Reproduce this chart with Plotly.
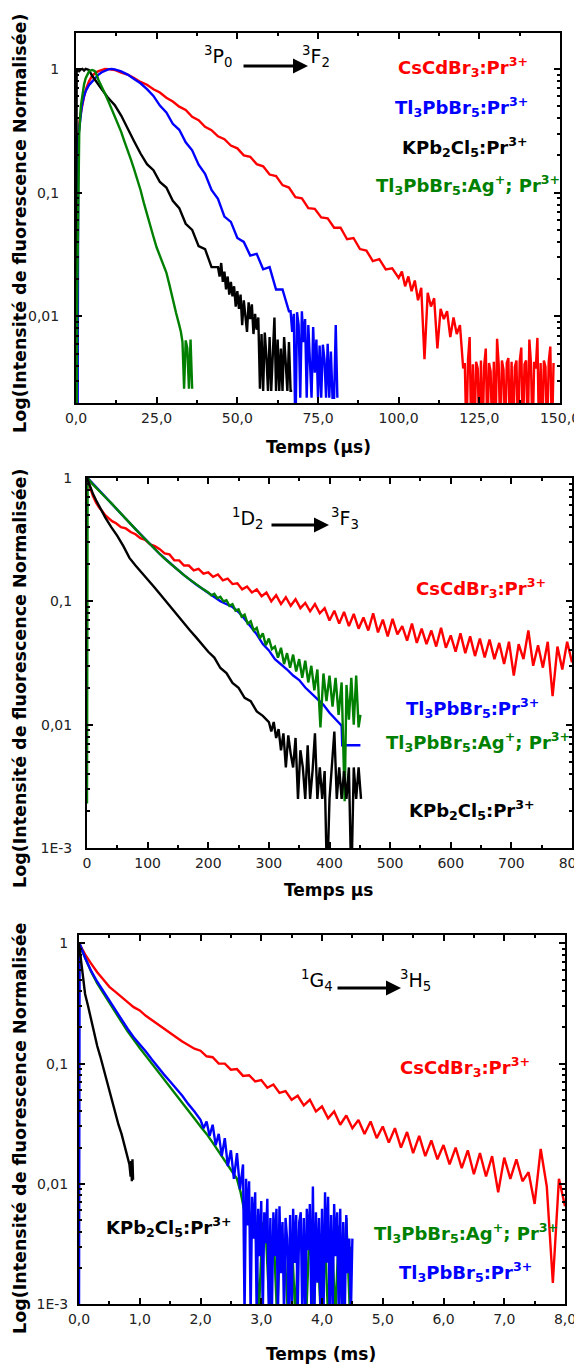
import plotly.graph_objects as go

# ---------------- Panel 1 : 3P0 -> 3F2 (time in µs) ----------------
p0_cs_t = [0, 0.1, 0.4, 0.8, 1.2, 1.8, 2.5, 3.2, 4, 5, 6, 7, 8, 9, 10,
           12, 14, 16, 18, 20, 22, 24, 26, 28, 30, 32, 34, 36, 38, 40, 42, 44, 46, 48, 50,
           52, 54, 56, 58, 60, 62, 64, 66, 68, 70, 72, 74, 76, 78, 80, 82, 84, 86, 88, 90,
           92, 94, 96, 98, 100,
           101, 102, 103, 104, 105, 106, 107, 108, 109, 110, 111, 112, 113, 114, 115, 116, 117, 118, 119, 120,
           120.5, 121, 121.5, 122, 122.5, 123, 123.5, 124, 124.5, 125, 125.5, 126, 126.5, 127, 127.5, 128,
           128.5, 129, 129.5, 130, 130.5, 131, 131.5, 132, 132.5, 133, 133.5, 134, 134.5, 135, 135.5, 136,
           136.5, 137, 137.5, 138, 138.5, 139, 139.5, 140, 140.5, 141, 141.5, 142, 142.5, 143, 143.5, 144,
           144.5, 145, 145.5, 146, 146.5, 147, 147.5, 148]
p0_cs_y = [0.001, 0.018, 0.12, 0.3, 0.4, 0.49, 0.6, 0.7, 0.79, 0.88, 0.93, 0.96, 0.98, 1.0, 0.995,
           0.98, 0.935, 0.9, 0.845, 0.785, 0.745, 0.685, 0.645, 0.585, 0.545, 0.495, 0.465, 0.41, 0.385, 0.34, 0.32, 0.285, 0.27, 0.24, 0.228,
           0.2, 0.195, 0.17, 0.163, 0.14, 0.136, 0.115, 0.11, 0.092, 0.09, 0.075, 0.074, 0.063, 0.062, 0.052, 0.052, 0.042, 0.043, 0.035, 0.034,
           0.028, 0.029, 0.024, 0.0245, 0.0205,
           0.023, 0.0175, 0.021, 0.016, 0.0195, 0.0135, 0.017, 0.0045, 0.0155, 0.012, 0.014, 0.0055, 0.0115, 0.0095, 0.011, 0.0068, 0.0098, 0.0072, 0.0085, 0.0038,
           0.0042, 0.001, 0.0045, 0.0068, 0.001, 0.0041, 0.001, 0.0043, 0.0038, 0.001, 0.0044, 0.001, 0.004, 0.0055, 0.001, 0.0042,
           0.0036, 0.001, 0.0043, 0.001, 0.0066, 0.0041, 0.001, 0.0044, 0.0037, 0.001, 0.0042, 0.0046, 0.001, 0.0043, 0.001, 0.0039,
           0.0044, 0.001, 0.0043, 0.0056, 0.001, 0.0041, 0.0044, 0.001, 0.0065, 0.0042, 0.001, 0.0043, 0.0038, 0.0067, 0.001, 0.0042,
           0.001, 0.0044, 0.0039, 0.001, 0.0043, 0.0057, 0.001, 0.0042]

p0_tl_t = [0, 0.5, 0.7, 1.2, 1.8, 2.4, 3, 4, 5, 6, 7, 8, 9, 10, 11, 12,
           14, 16, 18, 20, 22, 24, 26, 28, 30, 32, 34, 36, 38, 40, 42, 44, 46, 48, 50, 52, 54, 56, 58, 60, 62, 64, 66,
           66.5, 67, 67.5, 68, 68.5, 69, 69.5, 70, 70.5, 71, 71.5, 72, 72.5, 73, 73.5, 74, 74.5, 75, 75.5, 76,
           76.5, 77, 77.5, 78, 78.5, 79, 79.5, 80, 80.5, 81]
p0_tl_y = [0.001, 0.001, 0.28, 0.38, 0.5, 0.59, 0.66, 0.74, 0.79, 0.85, 0.9, 0.94, 0.97, 0.99, 1.0, 0.99,
           0.955, 0.9, 0.83, 0.765, 0.685, 0.605, 0.505, 0.445, 0.36, 0.322, 0.255, 0.22, 0.168, 0.142, 0.105, 0.089, 0.064, 0.058, 0.043, 0.04, 0.031, 0.032, 0.024, 0.025, 0.0165, 0.0165, 0.011,
           0.011, 0.0075, 0.0105, 0.001, 0.0108, 0.0085, 0.0022, 0.011, 0.0062, 0.0095, 0.0022, 0.0085, 0.0048, 0.0022, 0.0082, 0.0035, 0.0065, 0.0022, 0.0058, 0.0022,
           0.0059, 0.0045, 0.0022, 0.006, 0.0022, 0.0052, 0.0022, 0.0022, 0.0085, 0.0022]

p0_kpb_t = [0, 0.2, 0.6, 1, 1.5, 2, 2.5, 3, 3.5, 4, 5, 6, 7, 8, 9, 10, 11, 12,
            14, 16, 18, 20, 22, 24, 26, 28, 30, 32, 34, 36, 38, 40, 42, 44,
            44.5, 45, 45.5, 46, 46.5, 47, 47.5, 48, 48.5, 49, 49.5, 50, 50.5, 51, 51.5, 52, 52.5, 53, 53.5, 54,
            54.5, 55, 55.5, 56, 56.5, 57, 57.5, 58, 58.5, 59, 59.5, 60, 60.5, 61, 61.5, 62, 62.5, 63, 63.5, 64,
            64.5, 65, 65.5, 66, 66.5, 67]
p0_kpb_y = [0.001, 0.95, 1.0, 0.96, 0.99, 1.0, 0.97, 1.0, 0.99, 0.98, 0.88, 0.81, 0.74, 0.68, 0.63, 0.58, 0.545, 0.51,
            0.42, 0.335, 0.26, 0.207, 0.17, 0.152, 0.122, 0.11, 0.086, 0.075, 0.056, 0.05, 0.037, 0.035, 0.025, 0.025,
            0.021, 0.027, 0.019, 0.023, 0.0165, 0.021, 0.015, 0.019, 0.0145, 0.0175, 0.012, 0.016, 0.0115, 0.015, 0.0085, 0.0135, 0.0105, 0.0075, 0.013, 0.0095,
            0.0125, 0.0072, 0.0105, 0.0078, 0.0098, 0.0026, 0.0072, 0.0025, 0.0074, 0.0048, 0.0025, 0.0068, 0.0025, 0.0052, 0.0098, 0.0025, 0.0065, 0.0025, 0.0055, 0.0025,
            0.0068, 0.0042, 0.0025, 0.0062, 0.0025, 0.0025]

p0_ag_t = [0, 0.2, 0.4, 0.7, 1.0, 1.5, 2, 2.5, 3, 3.5, 4, 4.5, 5, 5.5, 6,
           7, 8, 9, 10, 11, 12, 13, 14, 15, 16, 17, 18, 19, 20, 21, 22, 23, 24, 25, 26, 27, 28, 29, 30, 31, 32,
           32.5, 33, 33.5, 34, 34.5, 35, 35.5, 36]
p0_ag_y = [0.001, 0.001, 0.017, 0.11, 0.3, 0.5, 0.63, 0.75, 0.84, 0.9, 0.95, 0.97, 0.98, 0.97, 0.95,
           0.81, 0.72, 0.63, 0.55, 0.48, 0.42, 0.36, 0.31, 0.26, 0.224, 0.186, 0.155, 0.129, 0.105, 0.083, 0.066, 0.054, 0.044, 0.036, 0.031, 0.026, 0.0226, 0.0178, 0.0135, 0.0107, 0.0085,
           0.0075, 0.0062, 0.0026, 0.0064, 0.0055, 0.0026, 0.0065, 0.0026]

# ---------------- Panel 2 : 1D2 -> 3F3 (time in µs) ----------------
d2_cs_t = [0, 2, 5, 10, 15, 20, 25, 30, 36, 42, 48, 56, 64, 72, 80, 88, 96, 104, 112, 120, 128, 136, 144, 152,
           160, 168, 176, 184, 192, 200, 208, 216, 224, 232, 240, 248, 256, 264, 272, 280, 288, 296, 304, 312,
           320, 328, 336, 344, 352, 360, 368, 376, 384, 392, 400, 408, 416, 424, 432, 440, 448, 456, 464, 472,
           480, 488, 496, 504, 512, 520, 528, 536, 544, 552, 560, 568, 576, 584, 592, 600, 608, 616, 624, 632,
           640, 648, 656, 664, 672, 680, 688, 696, 704, 712, 720, 728, 736, 744, 752, 760, 768, 776, 784, 792, 800]
d2_cs_y = [1.0, 0.93, 0.83, 0.71, 0.63, 0.575, 0.54, 0.5, 0.47, 0.445, 0.43, 0.40, 0.39, 0.365, 0.35, 0.325, 0.315, 0.29, 0.28, 0.265, 0.245, 0.24, 0.215, 0.215,
           0.195, 0.195, 0.178, 0.183, 0.168, 0.172, 0.158, 0.165, 0.148, 0.153, 0.138, 0.14, 0.125, 0.132, 0.118, 0.125, 0.11, 0.118, 0.1, 0.112,
           0.095, 0.108, 0.092, 0.104, 0.088, 0.097, 0.083, 0.095, 0.08, 0.088, 0.07, 0.084, 0.066, 0.082, 0.063, 0.079, 0.06, 0.074, 0.058, 0.08,
           0.056, 0.071, 0.052, 0.072, 0.054, 0.063, 0.048, 0.066, 0.046, 0.06, 0.045, 0.058, 0.043, 0.061, 0.042, 0.053, 0.039, 0.055, 0.038, 0.052,
           0.036, 0.05, 0.035, 0.049, 0.034, 0.046, 0.031, 0.047, 0.025, 0.045, 0.034, 0.058, 0.03, 0.044, 0.029, 0.047, 0.017, 0.043, 0.028, 0.047, 0.032]

d2_tl_t = [1, 20, 40, 60, 80, 100, 120, 140, 160, 180, 200, 220, 240, 250, 260, 270, 280, 290, 300, 310, 320,
           330, 340, 350, 360, 370, 380, 390, 400, 410, 420, 421, 451]
d2_tl_y = [1.0, 0.79, 0.62, 0.49, 0.385, 0.305, 0.242, 0.198, 0.163, 0.137, 0.117, 0.1, 0.09, 0.082, 0.072, 0.063, 0.054, 0.045, 0.04, 0.034, 0.031,
           0.028, 0.025, 0.023, 0.02, 0.018, 0.016, 0.0145, 0.0125, 0.011, 0.0098, 0.0068, 0.0068]

d2_ag_t = [0, 1, 8, 16, 24, 32, 40, 48, 56, 64, 72, 80, 88, 96, 104, 112, 120, 128, 136, 144, 152, 160, 168, 176, 184, 192, 200,
           205, 210, 215, 220, 225, 230, 235, 240, 245, 250, 255, 260, 265, 270, 275, 280, 285, 290, 295, 300,
           305, 310, 315, 320, 325, 330, 335, 340, 345, 350, 355, 360, 365, 370, 375, 380, 385, 390, 395, 400,
           405, 410, 415, 420, 425, 428, 432, 436, 440, 444, 448, 451]
d2_ag_y = [0.0023, 1.0, 0.905, 0.83, 0.755, 0.685, 0.625, 0.565, 0.515, 0.465, 0.425, 0.385, 0.35, 0.318, 0.29, 0.265, 0.242, 0.222, 0.205, 0.19, 0.176, 0.163, 0.152, 0.142, 0.133, 0.125, 0.118,
           0.112, 0.115, 0.106, 0.109, 0.1, 0.102, 0.092, 0.095, 0.084, 0.086, 0.075, 0.078, 0.066, 0.069, 0.058, 0.061, 0.05, 0.055, 0.044, 0.05,
           0.041, 0.043, 0.035, 0.042, 0.031, 0.038, 0.029, 0.037, 0.027, 0.034, 0.024, 0.033, 0.022, 0.03, 0.019, 0.028, 0.0095, 0.026, 0.0155, 0.025,
           0.014, 0.024, 0.012, 0.022, 0.0024, 0.021, 0.011, 0.024, 0.01, 0.025, 0.0095, 0.012]

d2_kpb_t = [0, 5, 10, 15, 20, 30, 40, 50, 60, 70, 80, 90, 100, 110, 120, 130, 140, 150, 160, 170, 180, 190, 200,
            210, 220, 230, 240, 250, 260, 270, 280, 290, 300,
            304, 308, 312, 316, 320, 324, 328, 332, 336, 340, 344, 348, 352, 356, 360, 364, 368, 372, 376, 380,
            384, 388, 392, 396, 400, 404, 408, 412, 416, 420, 424, 428, 432, 436, 440, 444, 448, 452]
d2_kpb_y = [1.0, 0.85, 0.74, 0.66, 0.59, 0.48, 0.40, 0.34, 0.28, 0.225, 0.195, 0.172, 0.151, 0.132, 0.115, 0.10, 0.087, 0.076, 0.066, 0.058, 0.051, 0.0447, 0.039,
            0.035, 0.0288, 0.0262, 0.0218, 0.0199, 0.0165, 0.0155, 0.0128, 0.0118, 0.0105,
            0.0088, 0.0105, 0.0078, 0.0092, 0.0062, 0.0085, 0.0045, 0.0082, 0.0058, 0.0045, 0.0078, 0.0025, 0.0062, 0.0045, 0.0025, 0.0068, 0.0025, 0.0042, 0.0085, 0.0025,
            0.0045, 0.0025, 0.0042, 0.0005, 0.0025, 0.0045, 0.0088, 0.0025, 0.0045, 0.0025, 0.0042, 0.0025, 0.0045, 0.0005, 0.0045, 0.0025, 0.0045, 0.0025]

# ---------------- Panel 3 : 1G4 -> 3H5 (time in ms) ----------------
g4_cs_t = [0.0, 0.1, 0.2, 0.3, 0.4, 0.5, 0.6, 0.7, 0.8, 0.9, 1.0, 1.1, 1.2, 1.3, 1.4, 1.5, 1.6, 1.7, 1.8, 1.9,
           2.0, 2.1, 2.2, 2.3, 2.4, 2.5, 2.6, 2.7, 2.8, 2.9, 3.0, 3.1, 3.2, 3.3, 3.4, 3.5, 3.6, 3.7, 3.8, 3.9,
           4.0, 4.1, 4.2, 4.3, 4.4, 4.5, 4.6, 4.7, 4.8, 4.9, 5.0, 5.1, 5.2, 5.3, 5.4, 5.5, 5.6, 5.7, 5.8, 5.9,
           6.0, 6.1, 6.2, 6.3, 6.4, 6.5, 6.6, 6.7, 6.8, 6.9, 7.0, 7.1, 7.2, 7.3, 7.4, 7.5, 7.6, 7.7, 7.8, 7.9, 8.0]
g4_cs_y = [1.0, 0.81, 0.68, 0.575, 0.5, 0.435, 0.395, 0.355, 0.325, 0.295, 0.277, 0.25, 0.23, 0.21, 0.193, 0.178, 0.166, 0.153, 0.143, 0.133,
           0.128, 0.115, 0.113, 0.1, 0.1, 0.089, 0.09, 0.079, 0.08, 0.071, 0.073, 0.063, 0.067, 0.057, 0.059, 0.05, 0.054, 0.045, 0.05, 0.04,
           0.044, 0.035, 0.04, 0.031, 0.037, 0.029, 0.034, 0.026, 0.033, 0.024, 0.03, 0.022, 0.029, 0.02, 0.027, 0.018, 0.025, 0.017, 0.023, 0.016,
           0.021, 0.0145, 0.02, 0.0135, 0.019, 0.012, 0.018, 0.0115, 0.017, 0.0085, 0.0165, 0.011, 0.016, 0.0105, 0.0125, 0.0068, 0.0195, 0.0095, 0.0015, 0.011, 0.0065]

g4_tl_t = [0.0, 0.01, 0.1, 0.2, 0.3, 0.4, 0.5, 0.6, 0.7, 0.8, 0.9, 1.0, 1.1, 1.2, 1.3, 1.4, 1.5, 1.6, 1.7, 1.8, 1.9, 2.0,
           2.05, 2.1, 2.15, 2.2, 2.25, 2.3, 2.35, 2.4, 2.45, 2.5, 2.55, 2.6, 2.65,
           2.7, 2.725, 2.75, 2.775, 2.8, 2.825, 2.85, 2.875, 2.9, 2.925, 2.95, 2.975, 3.0, 3.025, 3.05, 3.075,
           3.1, 3.125, 3.15, 3.175, 3.2, 3.225, 3.25, 3.275, 3.3, 3.325, 3.35, 3.375, 3.4, 3.425, 3.45, 3.475,
           3.5, 3.525, 3.55, 3.575, 3.6, 3.625, 3.65, 3.675, 3.7, 3.725, 3.75, 3.775, 3.8, 3.825, 3.85, 3.875,
           3.9, 3.925, 3.95, 3.975, 4.0, 4.025, 4.05, 4.075, 4.1, 4.125, 4.15, 4.175, 4.2, 4.225, 4.25, 4.275,
           4.3, 4.325, 4.35, 4.375, 4.4, 4.425, 4.45, 4.475, 4.5]
g4_tl_y = [0.0008, 1.0, 0.76, 0.59, 0.48, 0.40, 0.33, 0.28, 0.234, 0.195, 0.166, 0.145, 0.126, 0.108, 0.093, 0.081, 0.071, 0.062, 0.054, 0.046, 0.040, 0.034,
           0.029, 0.033, 0.025, 0.031, 0.021, 0.026, 0.017, 0.024, 0.014, 0.019, 0.011, 0.018, 0.009,
           0.0145, 0.0008, 0.011, 0.0045, 0.0105, 0.0008, 0.0078, 0.0035, 0.0085, 0.0008, 0.0062, 0.0025, 0.0072, 0.0008, 0.0058, 0.0032,
           0.0075, 0.0008, 0.0052, 0.0008, 0.0058, 0.0025, 0.0062, 0.0008, 0.0065, 0.0018, 0.0048, 0.0008, 0.0052, 0.0035, 0.0008, 0.0055,
           0.0008, 0.0062, 0.0022, 0.0055, 0.0008, 0.0048, 0.0058, 0.0008, 0.0052, 0.0008, 0.0062, 0.0028, 0.0068, 0.0008, 0.0095, 0.0008,
           0.0058, 0.0015, 0.0052, 0.0008, 0.0062, 0.0008, 0.0085, 0.0022, 0.0078, 0.0008, 0.0055, 0.0008, 0.0068, 0.0025, 0.0058, 0.0008,
           0.0062, 0.0008, 0.0048, 0.0008, 0.0055, 0.0018, 0.0035, 0.0008, 0.0035]

g4_ag_t = [0.0, 0.1, 0.2, 0.3, 0.4, 0.5, 0.6, 0.7, 0.8, 0.9, 1.0, 1.1, 1.2, 1.3, 1.4, 1.5, 1.6, 1.7, 1.8, 1.9, 2.0,
           2.1, 2.2, 2.3, 2.4, 2.5, 2.6, 2.66, 2.72, 2.78, 2.84, 2.9, 2.96, 3.02, 3.08, 3.14, 3.2, 3.26, 3.32, 3.38,
           3.44, 3.5, 3.56, 3.62, 3.68, 3.74, 3.8, 3.86, 3.92, 3.98, 4.04, 4.1, 4.16, 4.22, 4.28, 4.34, 4.4, 4.46, 4.48]
g4_ag_y = [1.0, 0.755, 0.58, 0.465, 0.385, 0.318, 0.266, 0.222, 0.186, 0.157, 0.135, 0.116, 0.1, 0.086, 0.074, 0.064, 0.055, 0.048, 0.041, 0.035, 0.03,
           0.026, 0.022, 0.0185, 0.0155, 0.013, 0.011, 0.0085, 0.006, 0.0068, 0.0045, 0.0055, 0.0008, 0.0048, 0.0035, 0.0008, 0.0042, 0.0008, 0.0045, 0.003,
           0.0008, 0.0038, 0.0008, 0.0042, 0.0025, 0.0008, 0.0048, 0.0008, 0.0035, 0.0008, 0.0042, 0.0008, 0.0038, 0.0008, 0.0045, 0.0008, 0.0052, 0.0008, 0.003]

g4_kpb_t = [0.0, 0.03, 0.06, 0.1, 0.15, 0.2, 0.25, 0.3, 0.35, 0.4, 0.45, 0.5, 0.55, 0.6, 0.65, 0.7, 0.75, 0.8,
            0.83, 0.85, 0.86, 0.87, 0.88, 0.89]
g4_kpb_y = [1.0, 0.72, 0.53, 0.38, 0.3, 0.23, 0.18, 0.14, 0.115, 0.092, 0.074, 0.058, 0.047, 0.038, 0.031, 0.026, 0.021, 0.017,
            0.0145, 0.0115, 0.0155, 0.0105, 0.016, 0.0108]

# ---------------- tick labels ----------------
p0_xticks = [0, 25, 50, 75, 100, 125, 150]
p0_xlabels = ["0,0", "25,0", "50,0", "75,0", "100,0", "125,0", "150,0"]
d2_xticks = [0, 100, 200, 300, 400, 500, 600, 700, 800]
d2_xlabels = ["0", "100", "200", "300", "400", "500", "600", "700", "800"]
g4_xticks = [0, 1, 2, 3, 4, 5, 6, 7, 8]
g4_xlabels = ["0,0", "1,0", "2,0", "3,0", "4,0", "5,0", "6,0", "7,0", "8,0"]
yticks = [0.001, 0.01, 0.1, 1]
ylabels = ["1E-3", "0,01", "0,1", "1"]

RED = "#ff0000"
BLUE = "#0000ff"
BLACK = "#000000"
GREEN = "#008000"

OFF = 8  # page body margin of the html document
W, H = 582 - OFF, 1365 - OFF


def px(x):
    return (x - OFF) / W


def py(y):
    return 1 - (y - OFF) / H


fig = go.Figure()


def add(t, y, color, n):
    fig.add_trace(go.Scatter(x=t, y=y, mode="lines", line=dict(color=color, width=2.4),
                             xaxis="x" + n, yaxis="y" + n, showlegend=False, hoverinfo="skip"))


add(p0_cs_t, p0_cs_y, RED, "")
add(p0_tl_t, p0_tl_y, BLUE, "")
add(p0_kpb_t, p0_kpb_y, BLACK, "")
add(p0_ag_t, p0_ag_y, GREEN, "")

add(d2_cs_t, d2_cs_y, RED, "2")
add(d2_tl_t, d2_tl_y, BLUE, "2")
add(d2_ag_t, d2_ag_y, GREEN, "2")
add(d2_kpb_t, d2_kpb_y, BLACK, "2")

add(g4_cs_t, g4_cs_y, RED, "3")
add(g4_ag_t, g4_ag_y, GREEN, "3")
add(g4_tl_t, g4_tl_y, BLUE, "3")
add(g4_kpb_t, g4_kpb_y, BLACK, "3")

TICKFONT = dict(family="DejaVu Sans", size=14, color="#222222")


def common():
    return dict(ticks="inside", ticklen=6, tickwidth=2, tickcolor="black", showline=True, linewidth=2,
                linecolor="black", mirror="ticks", showgrid=False, zeroline=False, tickfont=TICKFONT,
                automargin=False, ticklabeloverflow="allow")


def xaxis(x0, x1, anchor, rng, tv, tt):
    d = common()
    minor = [(a + b) / 2 for a, b in zip(tv[:-1], tv[1:])]
    d.update(domain=[px(x0), px(x1)], anchor=anchor, range=rng, tickmode="array", tickvals=tv, ticktext=tt,
             minor=dict(tickvals=minor, ticks="inside", ticklen=3, tickwidth=1.5, tickcolor="black", showgrid=False),
             ticklabelstandoff=1)
    return d


def yaxis(y0, y1, anchor, rng, standoff):
    d = common()
    minor = []
    for dec in [0.001, 0.01, 0.1]:
        for k in range(2, 10):
            minor.append(dec * k)
    d.update(domain=[py(y1), py(y0)], anchor=anchor, type="log", range=rng, tickmode="array",
             tickvals=yticks, ticktext=ylabels,
             minor=dict(tickvals=minor, ticks="inside", ticklen=3, tickwidth=1.5, tickcolor="black", showgrid=False),
             ticklabelstandoff=standoff)
    return d


fig.update_layout(
    width=W, height=H, margin=dict(l=0, r=0, t=0, b=0),
    paper_bgcolor="white", plot_bgcolor="white",
    xaxis=xaxis(76, 560, "y", [0, 150], p0_xticks, p0_xlabels),
    yaxis=yaxis(33, 403, "x", [-2.70, 0.29], 12),
    xaxis2=xaxis(87, 572, "y2", [0, 800], d2_xticks, d2_xlabels),
    yaxis2=yaxis(478, 848, "x2", [-3, 0], 10),
    xaxis3=xaxis(79, 565, "y3", [0, 8], g4_xticks, g4_xlabels),
    yaxis3=yaxis(935, 1304, "x3", [-3, 0.07], 6),
)

LABFONT = "DejaVu Sans"
ann = []


def label(text, x, y, color, xanchor="right", size=18, bold=True):
    ann.append(dict(text=text, x=px(x), y=py(y), xref="paper", yref="paper", xanchor=xanchor,
                    yanchor="middle", showarrow=False,
                    font=dict(family=LABFONT, size=size, color=color, weight="bold" if bold else "normal")))


def arrow(x0, x1, y):
    ann.append(dict(text="", x=px(x1), y=py(y), xref="paper", yref="paper", ax=-(x1 - x0), ay=0,
                    showarrow=True, arrowhead=2, arrowsize=1, arrowwidth=3, arrowcolor="black"))


YTITLE = "Log(Intensité de fluorescence Normalisée)"
for yc, txt in [(223, YTITLE), (678, YTITLE), (1128, YTITLE[:-1])]:
    ann.append(dict(text=txt, x=px(20), y=py(yc), xref="paper", yref="paper", textangle=-90,
                    showarrow=False, xanchor="center", yanchor="middle",
                    font=dict(family=LABFONT, size=17.5, color="black", weight="bold")))

label("Temps (µs)", 318, 447, BLACK, "center", 17)
label("Temps µs", 328, 890, BLACK, "center", 17)
label("Temps (ms)", 321, 1354, BLACK, "center", 17)

# panel 1
label("<sup>3</sup>P<sub>0</sub>", 234, 57, BLACK, "right", 19, False)
arrow(242, 308, 66)
label("<sup>3</sup>F<sub>2</sub>", 300, 57, BLACK, "left", 19, False)
label("CsCdBr<sub>3</sub>:Pr<sup>3+</sup>", 530, 67, RED)
label("Tl<sub>3</sub>PbBr<sub>5</sub>:Pr<sup>3+</sup>", 530, 107, BLUE)
label("KPb<sub>2</sub>Cl<sub>5</sub>:Pr<sup>3+</sup>", 530, 147, BLACK)
label("Tl<sub>3</sub>PbBr<sub>5</sub>:Ag<sup>+</sup>; Pr<sup>3+</sup>", 562, 185, GREEN)

# panel 2
label("<sup>1</sup>D<sub>2</sub>", 266, 518, BLACK, "right", 19, False)
arrow(270, 329, 525)
label("<sup>3</sup>F<sub>3</sub>", 329, 518, BLACK, "left", 19, False)
label("CsCdBr<sub>3</sub>:Pr<sup>3+</sup>", 548, 588, RED)
label("Tl<sub>3</sub>PbBr<sub>5</sub>:Pr<sup>3+</sup>", 541, 708, BLUE)
label("Tl<sub>3</sub>PbBr<sub>5</sub>:Ag<sup>+</sup>; Pr<sup>3+</sup>", 572, 742, GREEN)
label("KPb<sub>2</sub>Cl<sub>5</sub>:Pr<sup>3+</sup>", 537, 810, BLACK)

# panel 3
label("<sup>1</sup>G<sub>4</sub>", 335, 980, BLACK, "right", 19, False)
arrow(336, 401, 988)
label("<sup>3</sup>H<sub>5</sub>", 398, 980, BLACK, "left", 19, False)
label("CsCdBr<sub>3</sub>:Pr<sup>3+</sup>", 532, 1067, RED)
label("KPb<sub>2</sub>Cl<sub>5</sub>:Pr<sup>3+</sup>", 234, 1227, BLACK)
label("Tl<sub>3</sub>PbBr<sub>5</sub>:Ag<sup>+</sup>; Pr<sup>3+</sup>", 560, 1233, GREEN)
label("Tl<sub>3</sub>PbBr<sub>5</sub>:Pr<sup>3+</sup>", 534, 1272, BLUE)

fig.update_layout(annotations=ann)
fig.write_html("out.html")
